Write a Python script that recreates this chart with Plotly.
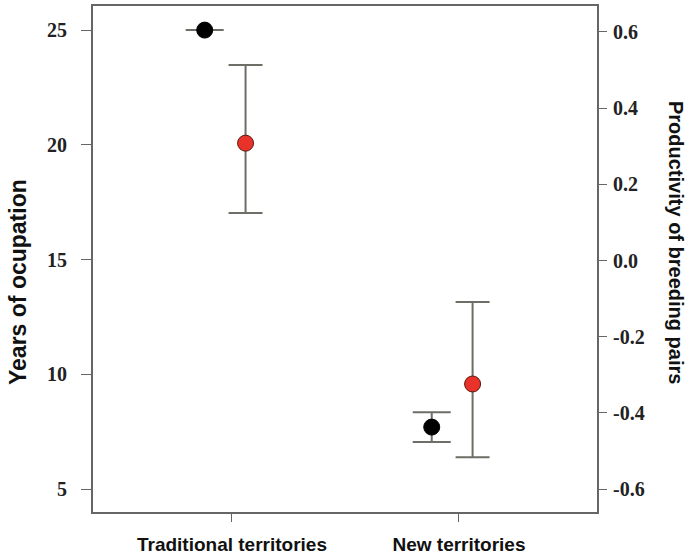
import plotly.graph_objects as go

categories = ["Traditional territories", "New territories"]
years_mean = [25.0, 7.7]
years_err_plus = [0.0, 0.65]
years_err_minus = [0.0, 0.65]
prod_mean = [0.308, -0.324]
prod_err_plus = [0.205, 0.215]
prod_err_minus = [0.183, 0.192]

left_ticks = [5, 10, 15, 20, 25]
right_ticks = [-0.6, -0.4, -0.2, 0.0, 0.2, 0.4, 0.6]
right_labels = ["-0.6", "-0.4", "-0.2", "0.0", "0.2", "0.4", "0.6"]

pos = [1, 2]
off_black = -0.12
off_red = 0.06
err_color = "#6e6e66"
frame = "#666666"

fig = go.Figure()
fig.add_trace(go.Scatter(
    x=[p + off_black for p in pos], y=years_mean, mode="markers",
    marker=dict(color="black", size=16, line=dict(color="black", width=1)),
    error_y=dict(type="data", symmetric=False, array=years_err_plus,
                 arrayminus=years_err_minus, color=err_color, thickness=2, width=19),
    yaxis="y", showlegend=False))
fig.add_trace(go.Scatter(
    x=[p + off_red for p in pos], y=prod_mean, mode="markers",
    marker=dict(color="#e8322a", size=16, line=dict(color="#5a1a12", width=1)),
    error_y=dict(type="data", symmetric=False, array=prod_err_plus,
                 arrayminus=prod_err_minus, color=err_color, thickness=2, width=17),
    yaxis="y2", showlegend=False))

tickfont = dict(family="Liberation Serif, Times New Roman, serif", size=20,
                color="#222", weight="bold")
fig.update_layout(
    width=691, height=556,
    margin=dict(l=93, r=94, t=6, b=44),
    plot_bgcolor="white", paper_bgcolor="white",
    xaxis=dict(range=[0.388, 2.608], tickvals=pos, ticktext=["<b>%s</b>" % c for c in categories],
               showgrid=False, zeroline=False, showline=True, mirror=True,
               linecolor=frame, linewidth=2, ticks="outside", ticklen=8,
               tickcolor=frame, tickwidth=1, ticklabelstandoff=6, automargin=False,
               tickfont=dict(family="Liberation Sans, Arial", size=19, color="#111"),
               ),
    yaxis=dict(range=[4.0, 26.05], tickvals=left_ticks, showgrid=False,
               zeroline=False, showline=True, mirror=True, linecolor=frame,
               linewidth=2, ticks="outside", ticklen=10, tickcolor=frame,
               tickwidth=1, tickfont=tickfont, ticklabelstandoff=10, automargin=False),
    yaxis2=dict(range=[-0.66, 0.668], tickvals=right_ticks, ticktext=right_labels,
                overlaying="y", side="right",
                showgrid=False, zeroline=False, showline=False,
                ticks="outside", ticklen=9, tickcolor=frame, tickwidth=1,
                tickfont=tickfont, ticklabelstandoff=2, automargin=False),
    annotations=[
        dict(text="<b>Years of ocupation</b>", x=18, y=282, xref="paper", yref="paper",
             showarrow=False, textangle=-90, xanchor="center", yanchor="middle",
             font=dict(family="Liberation Sans, Arial", size=23, color="#111")),
        dict(text="<b>Productivity of breeding pairs</b>", x=676, y=242,
             xref="paper", yref="paper", showarrow=False, textangle=90,
             xanchor="center", yanchor="middle",
             font=dict(family="Liberation Sans, Arial", size=20, color="#111")),
    ],
)
# convert pixel positions of the axis titles into paper coordinates
pw, ph = 691 - 93 - 94, 556 - 6 - 44
for a in fig.layout.annotations:
    a.x = (a.x - 93) / pw
    a.y = (556 - 44 - a.y) / ph
fig.write_html("out.html")
